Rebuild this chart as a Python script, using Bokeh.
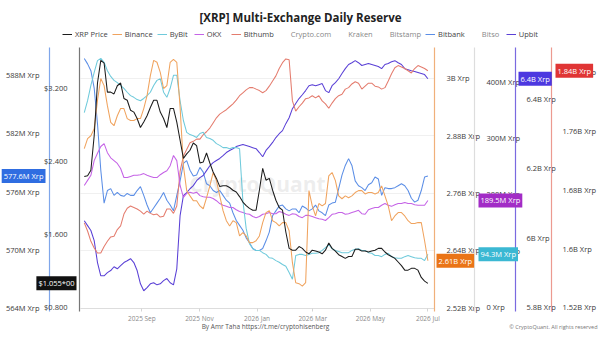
import pandas as pd
from bokeh.plotting import figure
from bokeh.models import (Range1d, LinearAxis, DatetimeAxis, FixedTicker, DatetimeTickFormatter,
                          Label, Legend, LegendItem, Grid)
from bokeh.embed import file_html
from bokeh.resources import INLINE

# ---------------- data (twice-weekly readings) ----------------
dates = pd.date_range("2025-07-02", periods=105, freq="84h")

xrp_price = [2.23, 2.24, 2.30, 2.68, 3.26, 3.51, 3.48, 3.16, 3.16, 3.14, 3.23, 3.26, 3.09, 3.07, 2.96,
             2.94, 2.87, 2.77, 2.83, 2.90, 2.99, 3.07, 3.07, 2.94, 2.87, 2.77, 2.98, 2.98, 2.83, 2.63,
             2.43, 2.48, 2.52, 2.60, 2.57, 2.38, 2.39, 2.49, 2.38, 2.28, 2.21, 2.12, 2.13, 2.13, 2.11,
             2.08, 2.06, 2.01, 1.95, 1.91, 1.88, 1.86, 1.86, 2.08, 2.32, 2.19, 2.21, 2.08, 1.97, 1.89,
             1.86, 1.62, 1.44, 1.42, 1.42, 1.46, 1.44, 1.40, 1.38, 1.42, 1.41, 1.40, 1.38, 1.42, 1.50,
             1.44, 1.41, 1.37, 1.35, 1.33, 1.35, 1.35, 1.43, 1.43, 1.41, 1.41, 1.40, 1.41, 1.42, 1.44,
             1.44, 1.40, 1.37, 1.35, 1.33, 1.29, 1.25, 1.20, 1.20, 1.22, 1.22, 1.20, 1.12, 1.08, 1.055]
binance_b = [2.853, 2.874, 2.880, 2.895, 2.954, 3.000, 2.985, 2.943, 2.908, 2.901, 2.922, 2.937, 2.937,
             2.916, 2.912, 2.912, 2.916, 2.916, 2.937, 2.964, 3.006, 3.038, 3.034, 3.013, 2.979, 2.985,
             3.034, 3.040, 3.034, 2.940, 2.817, 2.765, 2.754, 2.744, 2.744, 2.733, 2.727, 2.750, 2.775,
             2.803, 2.786, 2.754, 2.723, 2.702, 2.691, 2.702, 2.698, 2.670, 2.677, 2.670, 2.656, 2.656,
             2.660, 2.670, 2.698, 2.719, 2.723, 2.702, 2.698, 2.691, 2.698, 2.698, 2.681, 2.614, 2.572,
             2.570, 2.565, 2.572, 2.765, 2.733, 2.712, 2.738, 2.733, 2.738, 2.796, 2.803, 2.786, 2.754,
             2.748, 2.754, 2.750, 2.754, 2.761, 2.765, 2.765, 2.758, 2.761, 2.761, 2.758, 2.761, 2.775,
             2.754, 2.733, 2.702, 2.712, 2.719, 2.719, 2.712, 2.702, 2.696, 2.696, 2.698, 2.698, 2.660, 2.618]
bybit_m = [345, 366, 393, 416, 437, 441, 434, 419, 409, 402, 398, 393, 388, 381, 375, 372, 368, 366,
           370, 375, 381, 393, 402, 405, 381, 372, 388, 411, 411, 366, 331, 310, 306, 304, 301, 308,
           310, 301, 299, 296, 290, 287, 283, 283, 281, 283, 283, 281, 189, 140, 113, 104, 101, 101,
           97, 94, 88, 87, 83, 80, 76, 73, 62, 50, 92, 94, 94, 92, 94, 96, 96, 97, 101, 106, 111, 104,
           101, 99, 97, 97, 97, 101, 103, 104, 101, 101, 97, 96, 92, 92, 90, 94, 96, 90, 88, 87, 87, 90,
           92, 90, 88, 87, 87, 83, 94.3]
okx_m = [216, 225, 234, 260, 273, 285, 290, 274, 265, 260, 255, 246, 230, 230, 232, 234, 234, 235,
         237, 234, 232, 230, 230, 235, 239, 242, 251, 269, 260, 216, 195, 202, 204, 202, 204, 198,
         196, 195, 195, 193, 189, 184, 181, 179, 177, 177, 173, 170, 168, 166, 165, 161, 159, 161,
         165, 166, 168, 166, 166, 170, 168, 165, 163, 166, 165, 161, 159, 163, 163, 161, 159, 157,
         156, 154, 159, 165, 166, 168, 168, 165, 166, 168, 170, 172, 166, 165, 173, 175, 177, 177,
         181, 184, 181, 179, 182, 184, 184, 186, 184, 184, 182, 181, 181, 181, 189.5]
bithumb_b = [1.635, 1.624, 1.610, 1.601, 1.594, 1.594, 1.603, 1.610, 1.616, 1.617, 1.626, 1.631, 1.647,
             1.655, 1.658, 1.656, 1.654, 1.651, 1.647, 1.651, 1.648, 1.646, 1.647, 1.643, 1.644, 1.654,
             1.654, 1.648, 1.658, 1.705, 1.726, 1.735, 1.744, 1.746, 1.749, 1.749, 1.755, 1.759, 1.764,
             1.771, 1.778, 1.783, 1.786, 1.789, 1.793, 1.797, 1.802, 1.808, 1.812, 1.816, 1.819, 1.819,
             1.817, 1.815, 1.812, 1.815, 1.821, 1.828, 1.835, 1.845, 1.853, 1.858, 1.857, 1.801, 1.787,
             1.793, 1.798, 1.804, 1.805, 1.808, 1.805, 1.808, 1.801, 1.797, 1.791, 1.798, 1.804, 1.808,
             1.810, 1.817, 1.819, 1.824, 1.827, 1.825, 1.817, 1.821, 1.825, 1.825, 1.821, 1.820, 1.817,
             1.819, 1.828, 1.838, 1.846, 1.849, 1.847, 1.845, 1.842, 1.839, 1.845, 1.849, 1.847, 1.845, 1.842]
bitbank_m = [589.76, 589.2, 588.5, 586.7, 583.0, 578.2, 574.8, 576.1, 576.3, 575.6, 575.9, 575.6, 575.5,
             575.8, 575.6, 575.6, 576.1, 576.5, 575.6, 574.6, 573.8, 574.3, 574.8, 575.3, 575.9, 575.1,
             574.6, 574.0, 575.6, 577.1, 578.9, 579.2, 578.2, 577.6, 577.7, 578.5, 578.0, 576.8, 576.6,
             576.1, 575.9, 576.1, 575.6, 575.1, 574.8, 573.8, 573.0, 572.5, 572.0, 571.2, 570.7, 570.1,
             569.9, 569.9, 570.1, 570.9, 571.8, 573.5, 574.0, 574.5, 574.6, 574.2, 574.0, 574.2, 574.2,
             573.8, 574.5, 574.3, 574.0, 574.2, 574.6, 574.0, 573.8, 573.5, 574.6, 574.8, 574.9, 576.3,
             577.7, 578.7, 579.4, 578.7, 577.1, 576.6, 576.4, 576.1, 576.7, 576.9, 577.5, 577.3, 575.6,
             576.4, 576.3, 576.3, 576.4, 576.6, 576.8, 576.6, 576.1, 575.3, 574.9, 575.1, 576.1, 577.5, 577.6]
upbit_b = [6.049, 6.035, 6.021, 5.992, 5.929, 5.891, 5.891, 5.900, 5.906, 5.917, 5.911, 5.920, 5.929,
           5.934, 5.940, 5.929, 5.906, 5.868, 5.848, 5.857, 5.868, 5.871, 5.865, 5.868, 5.877, 5.883,
           5.871, 5.865, 5.911, 6.064, 6.121, 6.130, 6.141, 6.150, 6.164, 6.173, 6.179, 6.193, 6.207,
           6.216, 6.222, 6.228, 6.236, 6.245, 6.251, 6.256, 6.262, 6.265, 6.268, 6.265, 6.262, 6.259,
           6.256, 6.245, 6.233, 6.251, 6.262, 6.274, 6.288, 6.299, 6.308, 6.328, 6.345, 6.371, 6.386,
           6.400, 6.411, 6.423, 6.437, 6.440, 6.437, 6.440, 6.443, 6.423, 6.417, 6.437, 6.446, 6.457,
           6.472, 6.486, 6.498, 6.503, 6.509, 6.503, 6.495, 6.498, 6.501, 6.498, 6.495, 6.492, 6.486,
           6.498, 6.501, 6.506, 6.509, 6.503, 6.498, 6.486, 6.483, 6.480, 6.478, 6.475, 6.472, 6.469, 6.457]

for s in (xrp_price, binance_b, bybit_m, okx_m, bithumb_b, bitbank_m, upbit_b):
    assert len(s) == len(dates), len(s)

hidden_series = ["Crypto.com", "Kraken", "Bitstamp", "Bitso"]

# ticks / labels
month_ticks = ["2025-09-01", "2025-11-01", "2026-01-01", "2026-03-01", "2026-05-01", "2026-07-01"]
bitbank_ticks = [564, 570, 576, 582, 588]
bitbank_labels = ["564M Xrp", "570M Xrp", "576M Xrp", "582M Xrp", "588M Xrp"]
price_ticks = [0.8, 1.6, 2.4, 3.2]
price_labels = ["$0.800", "$1.600", "$2.400", "$3.200"]
binance_ticks = [2.52, 2.64, 2.76, 2.88, 3.0]
binance_labels = ["2.52B Xrp", "2.64B Xrp", "2.76B Xrp", "2.88B Xrp", "3B Xrp"]
bybit_ticks = [0, 100, 200, 300, 400]
bybit_labels = ["0 Xrp", "100M Xrp", "200M Xrp", "300M Xrp", "400M Xrp"]
upbit_ticks = [5.8, 6.0, 6.2, 6.4]
upbit_labels = ["5.8B Xrp", "6B Xrp", "6.2B Xrp", "6.4B Xrp"]
bithumb_ticks = [1.52, 1.6, 1.68, 1.76, 1.84]
bithumb_labels = ["1.52B Xrp", "1.6B Xrp", "1.68B Xrp", "1.76B Xrp", "1.84B Xrp"]

tag_texts = {"bitbank": "577.6M Xrp", "price": "$1.055*00", "binance": "2.61B Xrp",
             "bybit": "94.3M Xrp", "okx": "189.5M Xrp", "upbit": "6.4B Xrp", "bithumb": "1.84B Xrp"}

# value extents of the plotting area (bottom, top) for each scale
ext_bitbank = (563.9, 589.86)
ext_price = (0.778, 3.541)
ext_binance = (2.518, 3.044)
ext_bybit = (-1.8, 442.5)
ext_upbit = (5.797, 6.518)
ext_bithumb = (1.5186, 1.860)
date_start, date_end = "2025-06-28", "2026-07-08"

# ---------------- layout (pixels) ----------------
W, H = 600, 337
PL, PR, PT, PB = 80, 434, 57, 308      # plotting area inside the canvas
FONT = "Open Sans"
C_PRICE, C_BIN, C_BYB, C_OKX = "#1c1c1c", "#f0a35e", "#6fcadb", "#c563e6"
C_BTH, C_BBK, C_UPB, C_HID = "#e47c6e", "#5b8ee6", "#5a40d6", "#9a9a9a"

x0 = pd.Timestamp(date_start).value / 1e6
x1 = pd.Timestamp(date_end).value / 1e6
ms_per_px = (x1 - x0) / (PR - PL)


def xpx(px):
    return x0 + (px - PL) * ms_per_px


def full_range(ext):
    lo, hi = ext
    per = (hi - lo) / (PB - PT)
    return Range1d(lo - (H - PB) * per, hi + PT * per)


def yval(ext, py):
    lo, hi = ext
    return lo + (PB - py) * (hi - lo) / (PB - PT)


p = figure(width=W, height=H, x_range=Range1d(xpx(0), xpx(W)), y_range=full_range(ext_bitbank),
           x_axis_location=None, y_axis_location=None, output_backend="svg", toolbar_location=None,
           min_border_left=0, min_border_right=0, min_border_top=0, min_border_bottom=0,
           outline_line_color=None)
p.extra_y_ranges = {
    "price": full_range(ext_price),
    "binance": full_range(ext_binance),
    "bybit": full_range(ext_bybit),
    "upbit": full_range(ext_upbit),
    "bithumb": full_range(ext_bithumb),
}
p.xgrid.visible = False
p.ygrid.visible = False

grid = Grid(dimension=1, ticker=FixedTicker(ticks=binance_ticks[1:]), y_range_name="binance",
            grid_line_color="#f0f0f0")
if "cross_bounds" in Grid.properties():
    grid.cross_bounds = (x0, x1)
    p.add_layout(grid)

# watermark
p.add_layout(Label(x=257, y=H - 183, x_units="screen", y_units="screen", text="CryptoQuant",
                   text_font=FONT, text_font_size="21px", text_font_style="bold",
                   text_color="#d8d8d8", text_alpha=0.45, text_align="center",
                   text_baseline="middle", level="underlay"))


def add_y(side, rng_name, ext, px, ticks, labels, line_color, standoff):
    ax = LinearAxis(y_range_name=rng_name, fixed_location=xpx(px),
                    bounds=(yval(ext, 311), yval(ext, 47)))
    ax.ticker = FixedTicker(ticks=ticks)
    ax.major_label_overrides = dict(zip(ticks, labels))
    ax.axis_line_color = line_color
    ax.axis_line_width = 1.2
    ax.major_tick_line_color = None
    ax.minor_tick_line_color = None
    ax.major_label_text_font = FONT
    ax.major_label_text_font_size = "7.5px"
    ax.major_label_text_color = "#3a3a3a"
    ax.major_label_standoff = standoff
    p.add_layout(ax, side)


add_y("left", "default", ext_bitbank, 49, bitbank_ticks, bitbank_labels, "#7fa6ea", 4)
add_y("left", "price", ext_price, 79, price_ticks, price_labels, "#777777", 6)
add_y("right", "binance", ext_binance, 434, binance_ticks, binance_labels, "#f0b07a", 6)
add_y("right", "bybit", ext_bybit, 474, bybit_ticks, bybit_labels, "#dddddd", 6)
add_y("right", "upbit", ext_upbit, 515, upbit_ticks, upbit_labels, "#7a6ae0", 5)
add_y("right", "bithumb", ext_bithumb, 551, bithumb_ticks, bithumb_labels, "#ec9a90", 5)

xa = DatetimeAxis(fixed_location=yval(ext_bitbank, PB), bounds=(x0, x1))
xa.ticker = FixedTicker(ticks=[pd.Timestamp(t).value // 10**6 for t in month_ticks])
xa.formatter = DatetimeTickFormatter(months="%Y %b", days="%Y %b", years="%Y %b")
xa.axis_line_color = "#dddddd"
xa.major_tick_line_color = "#d5d5d5"
xa.major_tick_out = 3
xa.major_tick_in = 0
xa.minor_tick_line_color = None
xa.major_label_text_font = FONT
xa.major_label_text_font_size = "6.5px"
xa.major_label_text_color = "#8a8a8a"
xa.major_label_standoff = 2
p.add_layout(xa, "below")

# ---------------- lines ----------------
lw = 1.05
r_bbk = p.line(dates, bitbank_m, line_color=C_BBK, line_width=lw)
r_upb = p.line(dates, upbit_b, line_color=C_UPB, line_width=lw, y_range_name="upbit")
r_bth = p.line(dates, bithumb_b, line_color=C_BTH, line_width=lw, y_range_name="bithumb")
r_okx = p.line(dates, okx_m, line_color=C_OKX, line_width=lw, y_range_name="bybit")
r_byb = p.line(dates, bybit_m, line_color=C_BYB, line_width=lw, y_range_name="bybit")
r_bin = p.line(dates, binance_b, line_color=C_BIN, line_width=lw, y_range_name="binance")
r_prc = p.line(dates, xrp_price, line_color=C_PRICE, line_width=lw, y_range_name="price")

hidden_r = {}
for name in hidden_series:
    r = p.line(x=[], y=[], line_color=C_HID, line_width=lw)
    r.visible = False
    hidden_r[name] = r

items = [
    LegendItem(label="XRP Price", renderers=[r_prc]),
    LegendItem(label="Binance", renderers=[r_bin]),
    LegendItem(label="ByBit", renderers=[r_byb]),
    LegendItem(label="OKX", renderers=[r_okx]),
    LegendItem(label="Bithumb", renderers=[r_bth]),
    LegendItem(label="Crypto.com", renderers=[hidden_r["Crypto.com"]]),
    LegendItem(label="Kraken", renderers=[hidden_r["Kraken"]]),
    LegendItem(label="Bitstamp", renderers=[hidden_r["Bitstamp"]]),
    LegendItem(label="Bitbank", renderers=[r_bbk]),
    LegendItem(label="Bitso", renderers=[hidden_r["Bitso"]]),
    LegendItem(label="Upbit", renderers=[r_upb]),
]
legend = Legend(items=items, orientation="horizontal", location=(62, H - 39),
                click_policy="hide", label_text_font=FONT, label_text_font_size="7.5px",
                label_text_color="#444444", glyph_width=10, glyph_height=8, label_standoff=3,
                spacing=4, padding=0, margin=0, border_line_color=None,
                background_fill_alpha=0, inactive_fill_alpha=0.35, label_height=9)
p.add_layout(legend, "center")

# ---------------- title & footer ----------------
p.add_layout(Label(x=300, y=H - 17, x_units="screen", y_units="screen",
                   text="[XRP] Multi-Exchange Daily Reserve", text_font=FONT,
                   text_font_size="11.5px", text_font_style="bold", text_color="#222222",
                   text_align="center", text_baseline="middle"))
p.add_layout(Label(x=265, y=H - 326, x_units="screen", y_units="screen",
                   text="By Amr Taha https://t.me/cryptohisenberg", text_font=FONT,
                   text_font_size="6.5px", text_color="#555555",
                   text_align="center", text_baseline="middle"))
p.add_layout(Label(x=597, y=H - 326, x_units="screen", y_units="screen",
                   text="\u00a9 CryptoQuant. All rights reserved", text_font=FONT,
                   text_font_size="5.5px", text_color="#777777",
                   text_align="right", text_baseline="middle"))


# ---------------- value tags ----------------
def tag(x, yv, rng, text, color, align):
    p.add_layout(Label(x=x, y=yv, x_units="screen", y_range_name=rng, text=text,
                       text_font=FONT, text_font_size="7.5px", text_color="white",
                       background_fill_color=color, padding=2, text_align=align,
                       text_baseline="middle"))


tag(45, bitbank_m[-1], "default", tag_texts["bitbank"], "#2f6de1", "right")
tag(76, xrp_price[-1], "price", tag_texts["price"], "#111111", "right")
tag(436, binance_b[-1], "binance", tag_texts["binance"], "#ea7416", "left")
tag(478, bybit_m[-1], "bybit", tag_texts["bybit"], "#3bb8d3", "left")
tag(478, okx_m[-1], "bybit", tag_texts["okx"], "#a22cc6", "left")
tag(518, upbit_b[-1], "upbit", tag_texts["upbit"], "#4c38e0", "left")
tag(555, bithumb_b[-1], "bithumb", tag_texts["bithumb"], "#e03535", "left")

open("out.html", "w").write(file_html(p, INLINE))
